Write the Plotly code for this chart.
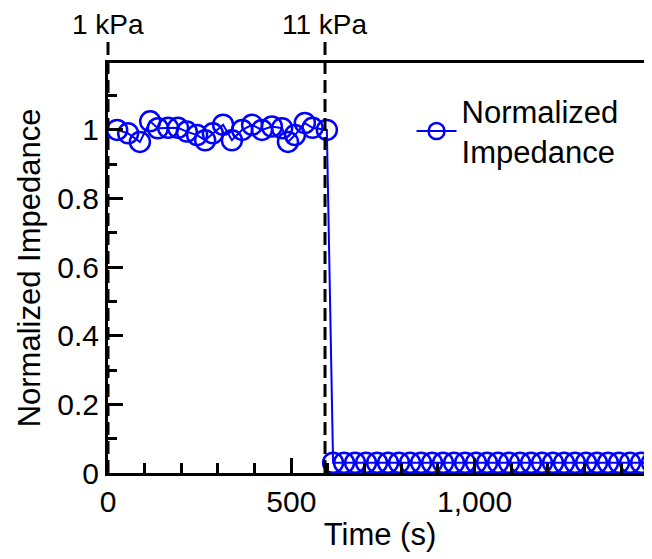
import plotly.graph_objects as go

# Data
t_low_pressure = [25, 55, 87, 115, 136, 164, 191, 215, 243, 265, 286, 314, 338,
                  366, 393, 420, 447, 475, 491, 510, 537, 558, 597]
z_low_pressure = [1.0, 0.99, 0.965, 1.025, 1.005, 1.006, 1.006, 0.995, 0.985, 0.97,
                  0.99, 1.015, 0.97, 1.0, 1.015, 1.0, 1.01, 1.005, 0.965, 0.985,
                  1.02, 1.006, 1.0]
t_high_pressure = [614, 644, 674, 704, 734, 764, 794, 824, 854, 884, 914, 944, 974,
                   1004, 1034, 1064, 1094, 1124, 1154, 1184, 1214, 1244, 1274, 1304,
                   1334, 1364, 1394, 1424, 1454, 1484]
z_high_pressure = [0.03] * 30

pressure_times = [0, 592]
pressure_labels = ["1 kPa", "11 kPa"]

x_max = 1484
y_max = 1.195

times = t_low_pressure + t_high_pressure
values = z_low_pressure + z_high_pressure

FONT = "Liberation Sans, Arial, sans-serif"

fig = go.Figure()
fig.add_trace(go.Scatter(
    x=times, y=values, mode="lines+markers",
    name="Normalized<br>Impedance",
    line=dict(color="#0000FF", width=2),
    marker=dict(symbol="circle-open", size=20, color="#0000FF",
                line=dict(width=2.5, color="#0000FF")),
    cliponaxis=False,
))

for t, lab in zip(pressure_times, pressure_labels):
    fig.add_shape(type="line", xref="paper", yref="paper",
                  x0=t / x_max, x1=t / x_max, y0=0, y1=1.063,
                  line=dict(color="black", width=3, dash="13px,6px"))
    fig.add_annotation(x=t / x_max, xref="paper", y=1.095, yref="paper",
                       text=lab, showarrow=False, xanchor="center", yanchor="middle",
                       borderpad=0,
                       font=dict(size=28, color="black", family=FONT))

fig.update_layout(
    width=652, height=559,
    margin=dict(l=100, r=8, t=55, b=94),
    paper_bgcolor="white", plot_bgcolor="white",
    font=dict(family=FONT, size=30, color="black"),
    showlegend=True,
    legend=dict(x=0.558, y=0.948, xanchor="left", yanchor="top",
                bgcolor="rgba(0,0,0,0)", font=dict(size=31, family=FONT),
                itemwidth=40, tracegroupgap=0),
    xaxis=dict(range=[0, x_max], showgrid=False, zeroline=False, automargin=False,
               showline=True, linecolor="black", linewidth=3, mirror=True,
               ticks="inside", ticklen=15, tickwidth=3, tickcolor="black",
               tickvals=[0, 500, 1000], tickformat=",",
               minor=dict(dtick=100, ticks="inside", ticklen=10, tickwidth=3,
                          tickcolor="black", showgrid=False),
               title=dict(text="Time (s)", font=dict(size=31), standoff=7),
               tickfont=dict(size=30)),
    yaxis=dict(range=[0, y_max], showgrid=False, zeroline=False, automargin=False,
               showline=True, linecolor="black", linewidth=3,
               ticks="inside", ticklen=15, tickwidth=3, tickcolor="black",
               tickvals=[0, 0.2, 0.4, 0.6, 0.8, 1.0],
               ticktext=["0", "0.2", "0.4", "0.6", "0.8", "1"],
               minor=dict(dtick=0.1, ticks="inside", ticklen=9, tickwidth=3,
                          tickcolor="black", showgrid=False),
               title=dict(text="Normalized Impedance", font=dict(size=31), standoff=8),
               tickfont=dict(size=30)),
)

fig.write_html("out.html")
